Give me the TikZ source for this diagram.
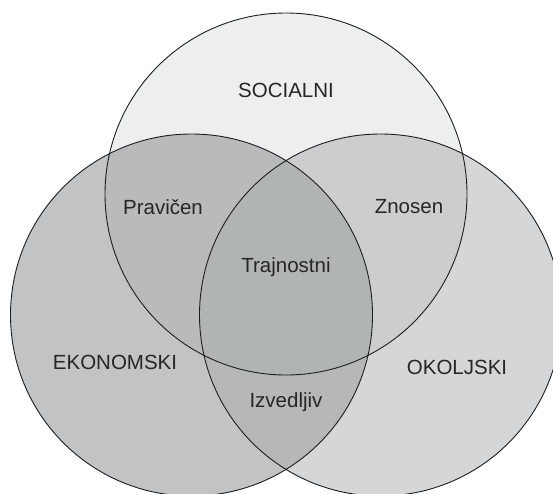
\documentclass[tikz,border=0pt]{standalone}
\usepackage{fontspec}
\setmainfont{Liberation Sans}
\definecolor{cTop}{HTML}{EDEEEE}
\definecolor{cLeft}{HTML}{C2C3C5}
\definecolor{cRight}{HTML}{D5D6D8}
\definecolor{cTL}{HTML}{B9BABC}
\definecolor{cTR}{HTML}{CCCDCF}
\definecolor{cLR}{HTML}{B6B7B9}
\definecolor{cAll}{HTML}{B1B4B5}
\definecolor{cLine}{HTML}{1E1E1E}
\begin{document}
\begin{tikzpicture}[x=1pt,y=-1pt,
  lbl/.style={font=\fontsize{20.5}{24}\selectfont, text=black!85, inner sep=0pt},
  ring/.style={draw=cLine, line width=0.9pt}]
\useasboundingbox (0,0) rectangle (553,493);
\clip (0,0) rectangle (553,493);
\def\rad{181}
\coordinate (cT) at (286,194);
\coordinate (cL) at (191.5,315);
\coordinate (cR) at (380.5,315);
% base fills
\fill[cTop] (cT) circle (\rad);
\fill[cLeft] (cL) circle (\rad);
\fill[cRight] (cR) circle (\rad);
% pairwise overlaps
\begin{scope}
  \clip (cT) circle (\rad);
  \fill[cTL] (cL) circle (\rad);
  \fill[cTR] (cR) circle (\rad);
\end{scope}
\begin{scope}
  \clip (cL) circle (\rad);
  \fill[cLR] (cR) circle (\rad);
\end{scope}
\begin{scope}
  \clip (cT) circle (\rad);
  \clip (cL) circle (\rad);
  \fill[cAll] (cR) circle (\rad);
\end{scope}
% outlines
\draw[ring] (cT) circle (\rad);
\draw[ring] (cL) circle (\rad);
\draw[ring] (cR) circle (\rad);
% labels
\node[lbl] (soc) at (286,90) {SOCIALNI};
\node[lbl] (pra) at (163,207) {Pravičen};
\node[lbl] (zno) at (409,207) {Znosen};
\node[lbl] (tra) at (286,267) {Trajnostni};
\node[lbl] (eko) at (115,362) {EKONOMSKI};
\node[lbl] (oko) at (457,367) {OKOLJSKI};
\node[lbl] (izv) at (286,402) {Izvedljiv};
\end{tikzpicture}
\end{document}
